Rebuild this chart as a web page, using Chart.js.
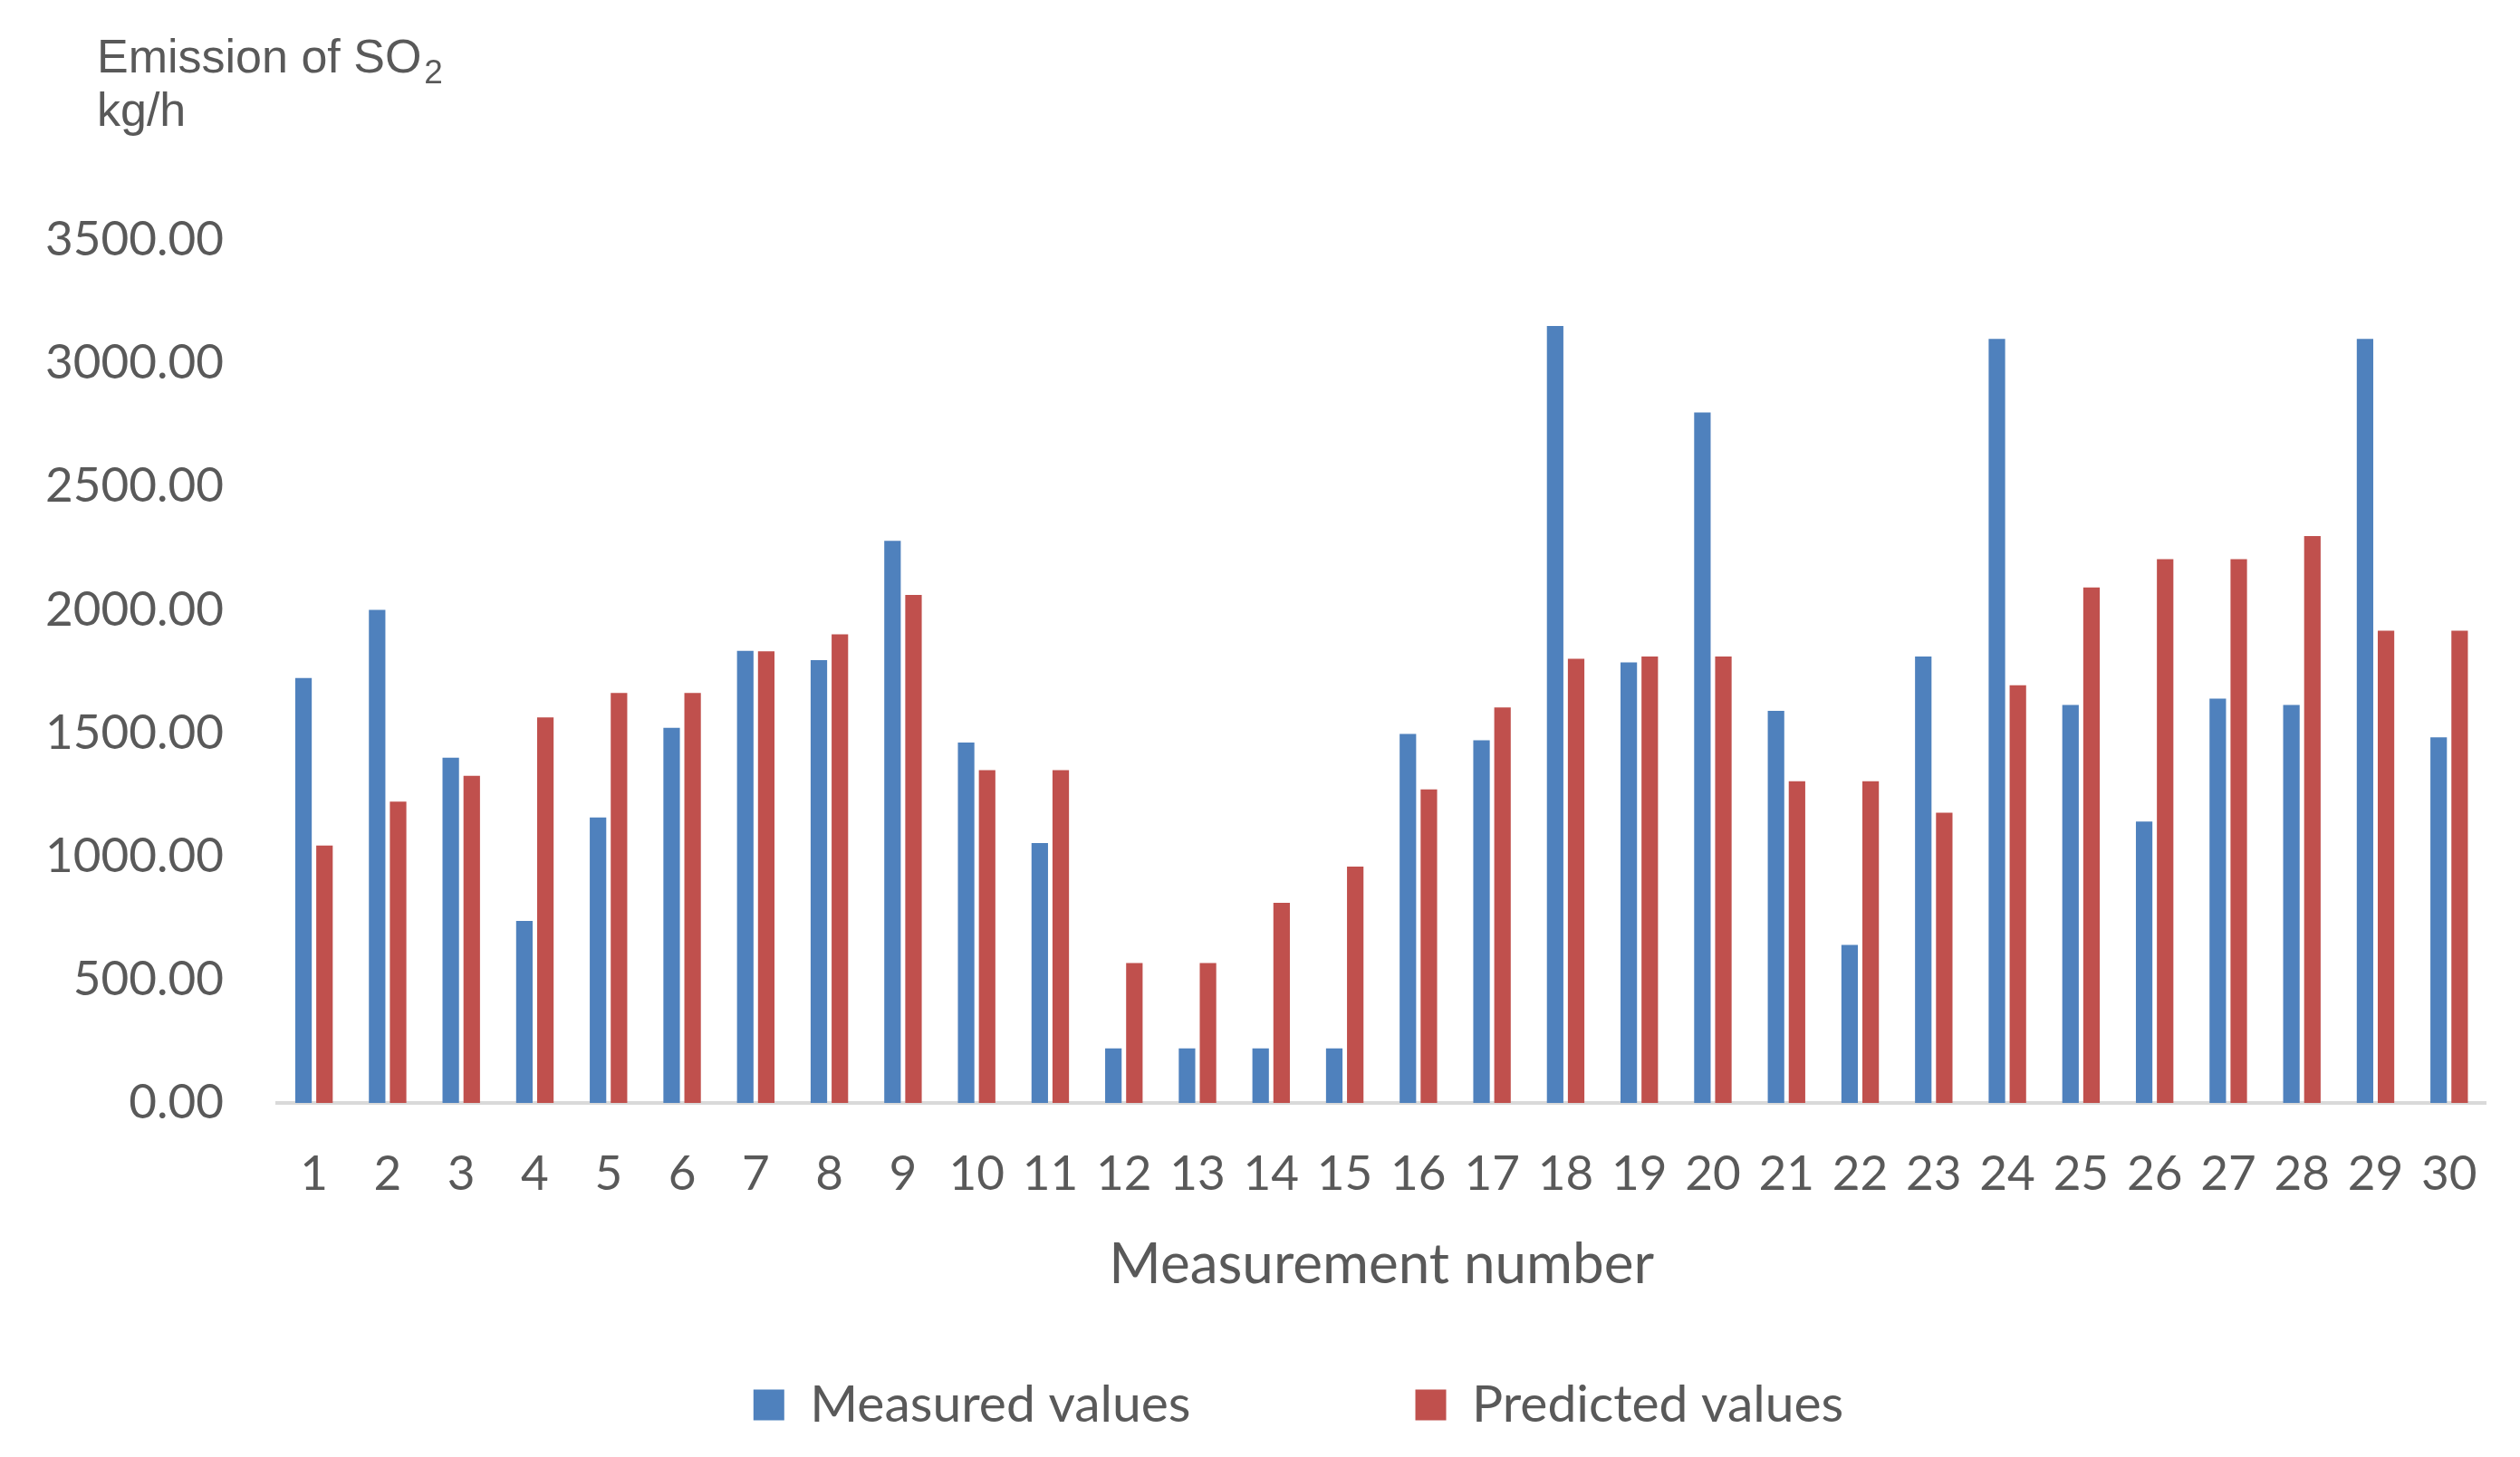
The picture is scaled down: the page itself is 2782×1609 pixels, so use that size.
<!DOCTYPE html>
<html>
<head>
<meta charset="utf-8">
<script src="https://cdn.jsdelivr.net/npm/chart.js@4/dist/chart.umd.min.js"></script>
<style>
  html, body { margin: 0; padding: 0; background: #fff; }
  #graf { display: block; }
</style>
</head>
<body>
<canvas id="graf" width="2782" height="1609"></canvas>
<script>
const categories = ['1', '2', '3', '4', '5', '6', '7', '8', '9', '10',
  '11', '12', '13', '14', '15', '16', '17', '18', '19', '20',
  '21', '22', '23', '24', '25', '26', '27', '28', '29', '30'];

const measured = [1723, 2000, 1400, 738, 1158, 1521, 1834, 1796, 2280, 1462,
  1054, 221, 221, 221, 221, 1497, 1471, 3151, 1787, 2800,
  1590, 641, 1811, 3099, 1614, 1141, 1640, 1614, 3099, 1483];

const predicted = [1044, 1222, 1327, 1564, 1663, 1663, 1832, 1901, 2060, 1350,
  1350, 567, 567, 812, 959, 1272, 1604, 1801, 1811, 1811,
  1305, 1305, 1177, 1694, 2091, 2205, 2205, 2299, 1915, 1915];

const yMin = 0;
const yMax = 3500;
const yStep = 500;

const textColor = '#595959';
const tickFont = { family: 'Lato', size: 53 };

// y axis title with subscript, drawn top-left
const unitTitle = {
  id: 'unitTitle',
  afterDraw(chart) {
    const c = chart.ctx;
    c.save();
    c.fillStyle = textColor;
    c.textBaseline = 'alphabetic';
    c.textAlign = 'left';
    c.font = '52px "Liberation Sans", Arial, sans-serif';
    const main = 'Emission of SO';
    c.fillText(main, 107, 80);
    const w = c.measureText(main).width;
    c.fillText('kg/h', 107, 139);
    c.font = '37px "Liberation Sans", Arial, sans-serif';
    c.fillText('2', 107 + w + 3, 92);
    c.restore();
  }
};

// legend sits a bit right of centre and closer to the axis title than its padding gives
const legendShift = {
  id: 'legendShift',
  afterLayout(chart) {
    const lg = chart.legend;
    const dx = 42;
    const dy = -163;
    lg.left += dx;
    lg.right += dx;
    lg.top += dy;
    lg.bottom = chart.height;
    lg.height = lg.bottom - lg.top;
  }
};

const ctx = document.getElementById('graf').getContext('2d');

const data = {
  labels: categories,
  datasets: [
    {
      label: 'Measured values',
      data: measured,
      backgroundColor: '#4F81BD',
      categoryPercentage: 0.57,
      barPercentage: 0.786,
    },
    {
      label: 'Predicted values',
      data: predicted,
      backgroundColor: '#C0504D',
      categoryPercentage: 0.57,
      barPercentage: 0.786,
    },
  ],
};

const config = {
  type: 'bar',
  data: data,
  plugins: [unitTitle, legendShift],
  options: {
    responsive: false,
    devicePixelRatio: 1,
    animation: false,
    layout: {
      padding: { left: 30, right: 29, top: 265, bottom: 0 },
    },
    plugins: {
      legend: {
        position: 'bottom',
        maxHeight: 171,
        labels: {
          color: textColor,
          font: { family: 'Lato', size: 57 },
          boxWidth: 34,
          boxHeight: 34,
          padding: 248,
        },
      },
      tooltip: { enabled: false },
    },
    scales: {
      x: {
        grid: { display: false, drawTicks: false },
        border: { display: true, color: '#D9D9D9', width: 4 },
        ticks: {
          color: textColor,
          font: tickFont,
          padding: 47,
          maxRotation: 0,
          autoSkip: false,
        },
        title: {
          display: true,
          text: 'Measurement number',
          color: textColor,
          font: { family: 'Lato', size: 62 },
          padding: { top: 0, bottom: 4 },
        },
        afterFit: (scale) => {
          scale.height = 220;
        },
      },
      y: {
        min: yMin,
        max: yMax,
        grid: { display: false, drawTicks: false },
        border: { display: false },
        ticks: {
          stepSize: yStep,
          color: textColor,
          font: tickFont,
          padding: 59,
          callback: (value) => {
            return Number(value).toFixed(2);
          },
        },
        afterFit: (scale) => {
          scale.width = 276;
        },
      },
    },
  },
};

const myChart = new Chart(ctx, config);
</script>
</body>
</html>
